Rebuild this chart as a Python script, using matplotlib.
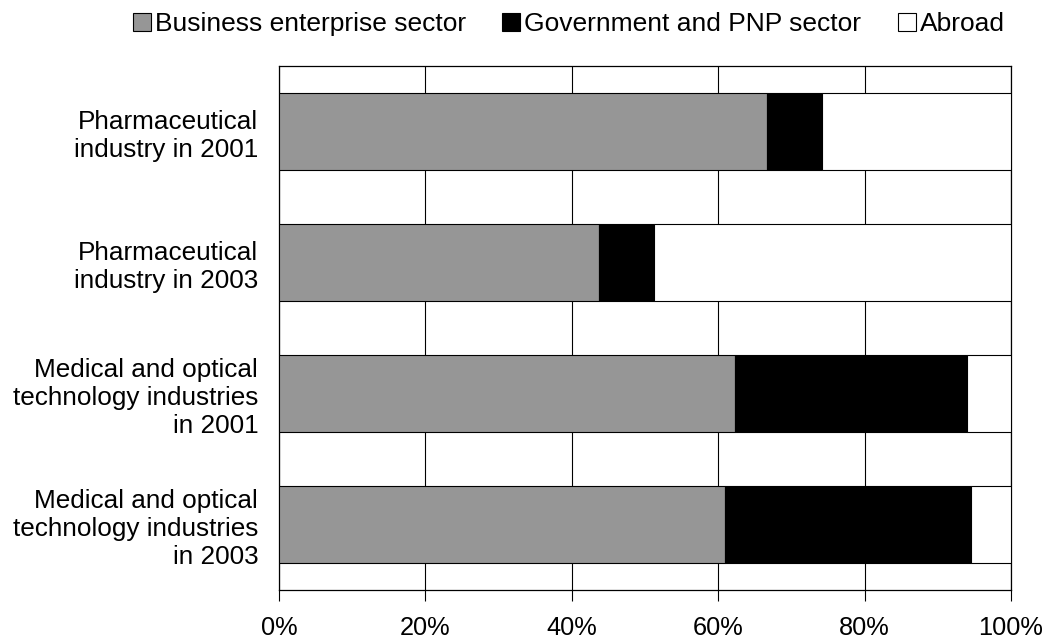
import matplotlib
matplotlib.use("Agg")
import matplotlib.pyplot as plt
import numpy as np

plt.rcParams['font.family'] = ['Liberation Sans', 'DejaVu Sans']

categories = ["Pharmaceutical\nindustry in 2001",
              "Pharmaceutical\nindustry in 2003",
              "Medical and optical\ntechnology industries\nin 2001",
              "Medical and optical\ntechnology industries\nin 2003"]
business = [66.7, 43.7, 62.3, 60.9]
government = [7.5, 7.5, 31.7, 33.6]
abroad = [100 - b - g for b, g in zip(business, government)]
series_names = ["Business enterprise sector", "Government and PNP sector", "Abroad"]
colors = ["#969696", "#000000", "#ffffff"]
xticks = [0, 20, 40, 60, 80, 100]
xticklabels = ["0%", "20%", "40%", "60%", "80%", "100%"]

FS_X = 18.3
FS_Y = 18.8
FS_L = 19.0

fig = plt.figure(figsize=(10.5, 6.42), dpi=100)
ax = fig.add_axes([279/1050, 1-590/642, (1011-279)/1050, (590-66)/642])

y = np.arange(len(categories))
left = np.zeros(len(categories))
for vals, name, col in zip([business, government, abroad], series_names, colors):
    ax.barh(y, vals, left=left, height=0.59, color=col, edgecolor="#000000",
            linewidth=0.8, label=name, zorder=3)
    left = left + np.array(vals)

ax.set_xlim(0, 100)
ax.set_ylim(len(categories) - 0.5, -0.5)
ax.set_xticks(xticks)
ax.set_xticklabels(xticklabels, fontsize=FS_X)
ax.set_yticks(y)
ax.set_yticklabels(categories, fontsize=FS_Y, ha="right", multialignment="right",
                   linespacing=1.2)
ax.tick_params(axis="y", length=0, pad=15)
ax.tick_params(axis="x", length=8, width=0.8, pad=11, direction="out")
ax.grid(axis="x", color="#000000", linewidth=0.8, zorder=0)
for s in ax.spines.values():
    s.set_color("#000000")
    s.set_linewidth(0.9)

handles, labels = ax.get_legend_handles_labels()
fig.legend(handles, labels, loc="center left", bbox_to_anchor=(133/1050, 1-24/642),
           ncol=3, frameon=False, fontsize=FS_L, handlelength=0.68, handleheight=0.68,
           handletextpad=0.15, columnspacing=1.38, borderaxespad=0, borderpad=0)

fig.savefig("out.png", dpi=100, facecolor="white")
